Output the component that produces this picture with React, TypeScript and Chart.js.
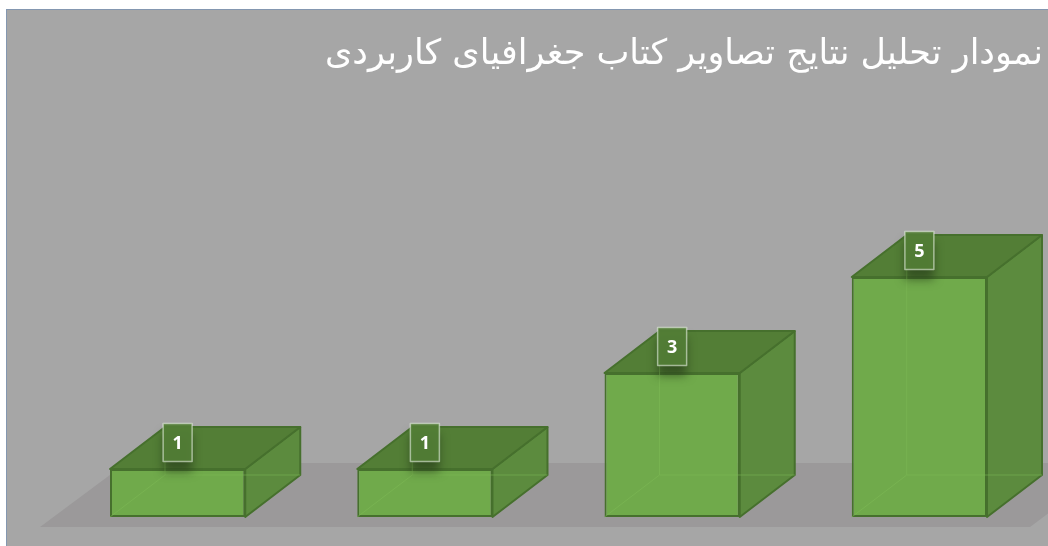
import React, { useEffect, useRef } from "react";
import { Chart, registerables } from "chart.js";

Chart.register(...registerables);

const TITLE = "نمودار تحلیل نتایج تصاویر کتاب جغرافیای کاربردی";
const categories = ["۱", "۲", "۳", "۴"];
const values = [1, 1, 3, 5];
const valueLabels = ["1", "1", "3", "5"];

const DX = 55;
const DY = -42;
const FRONT = "#70AA4B";
const TOP = "#537E36";
const SIDE = "#5C8B3E";
const EDGE = "#46702D";

const cube3d = {
  id: "cube3d",
  beforeDatasetsDraw(chart: any) {
    const { ctx, chartArea, scales } = chart;
    const base = scales.y.getPixelForValue(0);
    const fy = base + 10;
    const by = base - 54;
    const fl = chartArea.left - 14;
    const fr = chartArea.right - 13;
    const off = 86;
    ctx.save();
    ctx.fillStyle = "#9B999A";
    ctx.beginPath();
    ctx.moveTo(fl, fy);
    ctx.lineTo(fr, fy);
    ctx.lineTo(fr + off, by);
    ctx.lineTo(fl + off, by);
    ctx.closePath();
    ctx.fill();
    ctx.restore();
  },
  afterDatasetsDraw(chart: any) {
    const { ctx } = chart;
    const meta = chart.getDatasetMeta(0);
    ctx.save();
    meta.data.forEach((bar: any, i: number) => {
      const { x, y, base, width } = bar.getProps(["x", "y", "base", "width"], true);
      const l = x - width / 2;
      const r = x + width / 2;
      const t = y;
      const b = base;
      ctx.lineJoin = "round";
      ctx.lineWidth = 2;
      ctx.strokeStyle = EDGE;
      // side face
      ctx.fillStyle = SIDE;
      ctx.beginPath();
      ctx.moveTo(r, t);
      ctx.lineTo(r + DX, t + DY);
      ctx.lineTo(r + DX, b + DY);
      ctx.lineTo(r, b);
      ctx.closePath();
      ctx.fill();
      ctx.stroke();
      // top face
      ctx.fillStyle = TOP;
      ctx.beginPath();
      ctx.moveTo(l, t);
      ctx.lineTo(r, t);
      ctx.lineTo(r + DX, t + DY);
      ctx.lineTo(l + DX, t + DY);
      ctx.closePath();
      ctx.fill();
      ctx.stroke();
      // hidden edges seen through
      ctx.strokeStyle = "rgba(125,185,85,0.55)";
      ctx.lineWidth = 1;
      ctx.beginPath();
      ctx.moveTo(l, b);
      ctx.lineTo(l + DX, b + DY);
      ctx.lineTo(l + DX, t + DY);
      ctx.moveTo(l + DX, b + DY);
      ctx.lineTo(r + DX, b + DY);
      ctx.stroke();
      // label
      const bw = 29;
      const bh = 38;
      const cy = t - 26.5;
      ctx.save();
      ctx.shadowColor = "rgba(30,50,20,0.6)";
      ctx.shadowBlur = 10;
      ctx.shadowOffsetY = 10;
      ctx.fillStyle = "rgba(82,125,54,0.95)";
      ctx.fillRect(x - bw / 2, cy - bh / 2, bw, bh);
      ctx.restore();
      ctx.strokeStyle = "rgba(230,240,225,0.6)";
      ctx.lineWidth = 1.5;
      ctx.strokeRect(x - bw / 2, cy - bh / 2, bw, bh);
      ctx.fillStyle = "#FFFFFF";
      ctx.font = "bold 18px 'Open Sans', sans-serif";
      ctx.textAlign = "center";
      ctx.textBaseline = "middle";
      ctx.fillText(valueLabels[i], x, cy + 1);
    });
    ctx.restore();
  },
};

export default function App() {
  const ref = useRef<HTMLCanvasElement | null>(null);
  useEffect(() => {
    if (!ref.current) return;
    const chart = new Chart(ref.current, {
      type: "bar",
      data: {
        labels: categories,
        datasets: [
          {
            data: values,
            backgroundColor: FRONT,
            borderColor: EDGE,
            borderWidth: 2,
            borderSkipped: false,
            barPercentage: 0.547,
            categoryPercentage: 1,
          },
        ],
      },
      options: {
        animation: false,
        responsive: true,
        maintainAspectRatio: false,
        layout: { padding: { left: 54, right: 5, top: 0, bottom: 29 } },
        scales: {
          x: { display: false },
          y: { display: false, min: 0, max: 8 },
        },
        plugins: {
          legend: { display: false },
          tooltip: { enabled: false },
          title: {
            display: true,
            text: TITLE,
            align: "end",
            rtl: true,
            color: "#FFFFFF",
            font: { family: "'DejaVu Sans', sans-serif", size: 35, weight: "normal" },
            padding: { top: 34, bottom: 57 },
          },
        },
      },
      plugins: [cube3d],
    } as any);
    return () => chart.destroy();
  }, []);
  return (
    <>
      <div
        style={{
          position: "absolute",
          left: 6,
          top: 9,
          width: 1042,
          height: 537,
          background: "#A6A6A6",
          borderLeft: "1px solid #8497B0",
          borderTop: "1px solid #8497B0",
          boxSizing: "border-box",
        }}
      />
      <div style={{ position: "absolute", left: 0, top: 0, width: 1048, height: 546 }}>
        <canvas ref={ref} />
      </div>
    </>
  );
}
